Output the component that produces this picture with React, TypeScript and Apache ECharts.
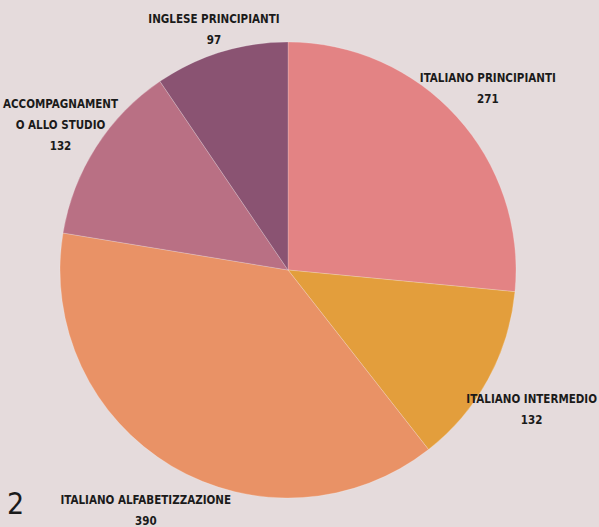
import React, { useEffect, useRef } from "react";
import * as echarts from "echarts";

const categories = [
  "ITALIANO PRINCIPIANTI",
  "ITALIANO INTERMEDIO",
  "ITALIANO ALFABETIZZAZIONE",
  "ACCOMPAGNAMENTO ALLO STUDIO",
  "INGLESE PRINCIPIANTI",
];
const displayNames = [
  "ITALIANO PRINCIPIANTI",
  "ITALIANO INTERMEDIO",
  "ITALIANO ALFABETIZZAZIONE",
  "ACCOMPAGNAMENT\nO ALLO STUDIO",
  "INGLESE PRINCIPIANTI",
];
const values = [271, 132, 390, 132, 97];
const colors = ["#E38384", "#E39E3C", "#E99266", "#B97084", "#8A5372"];
const labelDistances = [270, 290, 279, 270, 252];

const W = 599;
const H = 527;
const CX = 288;
const CY = 270;
const R = 228;
const FONT = "'DejaVu Sans Condensed', 'Liberation Sans Narrow', sans-serif";
const FONT_SIZE = 11.5;

export default function App() {
  const ref = useRef<HTMLDivElement>(null);
  useEffect(() => {
    document.body.style.margin = "0";
    const chart = echarts.init(ref.current!, null, { renderer: "svg" });
    const total = values.reduce((a, b) => a + b, 0);
    const mids: number[] = [];
    let acc = 0;
    values.forEach((v) => {
      mids.push(((acc + v / 2) / total) * Math.PI * 2);
      acc += v;
    });
    const ctx = document.createElement("canvas").getContext("2d")!;
    ctx.font = `bold ${FONT_SIZE}px ${FONT}`;
    const widths = displayNames.map((n) =>
      Math.max(...n.split("\n").map((s) => ctx.measureText(s).width))
    );
    chart.setOption({
      animation: false,
      backgroundColor: "#E5DBDC",
      graphic: [
        {
          type: "text",
          left: 7,
          top: 488,
          style: { text: "2", fontSize: 30, fontFamily: FONT, fill: "#1a1a1a" },
        },
      ],
      series: [
        {
          type: "pie",
          center: [CX, CY],
          radius: [0, R],
          startAngle: 90,
          clockwise: true,
          itemStyle: { borderColor: "rgba(255,255,255,0.35)", borderWidth: 0.6 },
          label: {
            show: true,
            position: "outside",
            formatter: (p: any) => displayNames[p.dataIndex] + "\n" + p.value,
            fontFamily: FONT,
            fontWeight: "bold",
            fontSize: FONT_SIZE,
            lineHeight: 21,
            color: "#1a1a1a",
            align: "center",
            overflow: "none",
          },
          labelLine: { show: false },
          labelLayout: (p: any) => {
            const i = p.dataIndex;
            const a = mids[i];
            const d = labelDistances[i];
            const w = widths[i];
            let x = CX + d * Math.sin(a);
            x = Math.min(Math.max(x, w / 2 + 2), W - w / 2 - 2);
            return {
              x,
              y: CY - d * Math.cos(a),
              align: "center",
              verticalAlign: "middle",
            };
          },
          emphasis: { disabled: true },
          data: categories.map((c, i) => ({
            name: c,
            value: values[i],
            itemStyle: { color: colors[i] },
          })),
        },
      ],
    });
    return () => chart.dispose();
  }, []);
  return <div ref={ref} style={{ width: W, height: H }} />;
}
